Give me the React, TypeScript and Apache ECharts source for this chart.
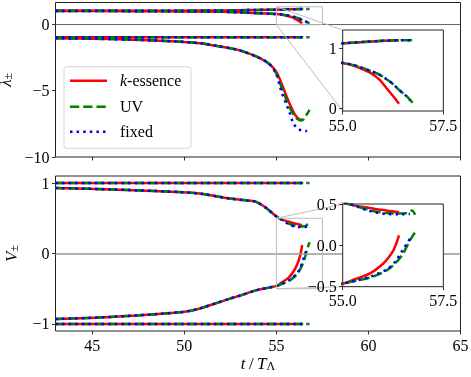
import { useEffect, useRef } from 'react';
import * as echarts from 'echarts';

// ---------------- data ----------------
const MODEL_NAMES = ['k-essence', 'UV', 'fixed'];
// last time reached by each model (k-essence, UV, fixed)
const END_T = [56.4, 56.8, 56.67];

const X_TICKS = [45, 50, 55, 60, 65];
const LAM_TICKS = [-10, -5, 0];
const V_TICKS = [-1, 0, 1];
const INSET_X_TICKS = [55, 57.5];
const LAM_INSET_TICKS = [0, 1];
const V_INSET_TICKS = [-0.5, 0, 0.5];

// lambda_+- : branch near +1 (slowly rising)
const lamA_t = [43, 48, 51, 52.5, 53.5, 54.5, 55, 55.5, 56, 56.4, 56.67, 56.8];
const lamA_v = [1.0, 1.0, 1.01, 1.02, 1.05, 1.07, 1.08, 1.1, 1.12, 1.13, 1.13, 1.14];
// branch near +1 falling to 0
const lamB_t = [43, 47, 50, 52, 53, 54, 55];
const lamB_v = [0.98, 0.97, 0.95, 0.92, 0.88, 0.82, 0.75];
const lamB_k_t = [55.3, 55.68, 55.9, 56.09, 56.25, 56.4];
const lamB_k_v = [0.7, 0.59, 0.48, 0.33, 0.2, 0.07];
const lamB_uv_t = [55.3, 55.68, 55.9, 56.09, 56.25, 56.42, 56.55, 56.67, 56.8];
const lamB_uv_v = [0.71, 0.62, 0.56, 0.48, 0.4, 0.29, 0.22, 0.14, 0.04];
const lamB_fx_t = [55.3, 55.68, 55.9, 56.09, 56.25, 56.42, 56.55, 56.67];
const lamB_fx_v = [0.71, 0.62, 0.56, 0.48, 0.4, 0.29, 0.22, 0.13];
// branch at -1
const lamC_t = [43, 50, 56.4, 56.67, 56.8];
const lamC_v = [-1, -1, -1, -1, -1];
// branch falling from -1 to about -7 / -8
const lamD_t = [43, 45, 47, 49, 50.84, 51.93, 53, 54.1, 54.66];
const lamD_v = [-1.07, -1.1, -1.17, -1.27, -1.44, -1.69, -1.98, -2.56, -3.06];
const lamD_k_t = [55, 55.2, 55.4, 55.6, 55.8, 56.0, 56.15, 56.3, 56.4];
const lamD_k_v = [-3.6, -4.2, -4.9, -5.6, -6.25, -6.8, -7.05, -7.2, -7.15];
const lamD_uv_t = [55, 55.2, 55.4, 55.6, 55.8, 56.0, 56.15, 56.3, 56.45, 56.6, 56.8];
const lamD_uv_v = [-3.75, -4.45, -5.2, -5.9, -6.5, -6.95, -7.15, -7.25, -7.2, -6.9, -6.45];
const lamD_fx_t = [55, 55.15, 55.3, 55.5, 55.7, 55.9, 56.1, 56.35, 56.67];
const lamD_fx_v = [-3.8, -4.5, -5.2, -5.9, -6.6, -7.4, -7.8, -8.0, -8.05];

// V_+- : constant branches
const vE_t = [43, 50, 56.4, 56.67, 56.8];
const vE_v = [1, 1, 1, 1, 1];
const vF_t = [43, 50, 56.4, 56.67, 56.8];
const vF_v = [-1, -1, -1, -1, -1];
// upper branch falling from 0.93 to 0.4
const vG_t = [43, 46, 49.9, 50.84, 52.48, 53.5, 53.93, 54.48, 55.02, 55.3];
const vG_v = [0.93, 0.91, 0.87, 0.85, 0.78, 0.75, 0.73, 0.64, 0.52, 0.48];
const vG_k_t = [55.57, 55.8, 56.1, 56.4];
const vG_k_v = [0.46, 0.44, 0.42, 0.4];
const vG_uv_t = [55.57, 55.8, 56.1, 56.4, 56.6, 56.72, 56.8];
const vG_uv_v = [0.44, 0.41, 0.39, 0.385, 0.39, 0.42, 0.37];
const vG_fx_t = [55.57, 55.8, 56.1, 56.4, 56.67];
const vG_fx_v = [0.43, 0.4, 0.38, 0.375, 0.38];
// lower branch rising from -0.93 to about 0.1
const vH_t = [43, 46, 49.9, 50.84, 52.48, 53.0, 53.93, 55.02];
const vH_v = [-0.93, -0.9, -0.83, -0.78, -0.64, -0.6, -0.52, -0.46];
const vH_k_t = [55.3, 55.68, 56.01, 56.15, 56.26, 56.33, 56.4];
const vH_k_v = [-0.41, -0.34, -0.22, -0.14, -0.06, 0.02, 0.12];
const vH_uv_t = [55.3, 55.68, 56.1, 56.3, 56.5, 56.67, 56.8];
const vH_uv_v = [-0.43, -0.39, -0.3, -0.22, -0.1, 0.06, 0.16];
const vH_fx_t = [55.3, 55.68, 56.1, 56.3, 56.5, 56.67];
const vH_fx_v = [-0.43, -0.38, -0.29, -0.2, -0.05, 0.08];

// ---------------- helpers ----------------
const zip = (t: number[], v: number[]) => t.map((x, i) => [x, v[i]]);
const shared = (t: number[], v: number[]) =>
  [0, 1, 2].map((m) => zip(t, v).filter((p) => p[0] <= END_T[m] + 1e-9));
const split = (t: number[], v: number[], tails: number[][][]) =>
  tails.map(([tt, tv]) => zip(t, v).concat(zip(tt, tv)));

const LAM_CURVES = [
  shared(lamA_t, lamA_v),
  split(lamB_t, lamB_v, [[lamB_k_t, lamB_k_v], [lamB_uv_t, lamB_uv_v], [lamB_fx_t, lamB_fx_v]]),
  shared(lamC_t, lamC_v),
  split(lamD_t, lamD_v, [[lamD_k_t, lamD_k_v], [lamD_uv_t, lamD_uv_v], [lamD_fx_t, lamD_fx_v]]),
];
const V_CURVES = [
  shared(vE_t, vE_v),
  shared(vF_t, vF_v),
  split(vG_t, vG_v, [[vG_k_t, vG_k_v], [vG_uv_t, vG_uv_v], [vG_fx_t, vG_fx_v]]),
  split(vH_t, vH_v, [[vH_k_t, vH_k_v], [vH_uv_t, vH_uv_v], [vH_fx_t, vH_fx_v]]),
];

const FONT = '"Liberation Serif", "Times New Roman", serif';
const COLORS = ['#ff0000', '#008000', '#0000ff'];
const DASH: any[] = ['solid', [9.25, 4], [2.5, 4.1]];
const minus = (s: string) => s.replace('-', '\u2212');

function curveSeries(curves: number[][][][], gi: number, z: number) {
  const out: any[] = [];
  curves.forEach((c) => {
    [0, 1, 2].forEach((m) => {
      out.push({
        type: 'line',
        name: MODEL_NAMES[m],
        xAxisIndex: gi,
        yAxisIndex: gi,
        data: c[m],
        symbol: 'none',
        showSymbol: false,
        smooth: 0.3,
        silent: true,
        clip: true,
        z,
        lineStyle: { color: COLORS[m], width: 2.5, type: DASH[m], cap: 'butt' },
      });
    });
  });
  return out;
}

function zeroLine(gi: number, color: string, width: number, z: number) {
  return {
    type: 'line',
    xAxisIndex: gi,
    yAxisIndex: gi,
    data: [],
    silent: true,
    z,
    markLine: {
      silent: true,
      symbol: ['none', 'none'],
      label: { show: false },
      lineStyle: { color, width, type: 'solid' },
      data: [{ yAxis: 0 }],
    },
  };
}

const tickStyle = { show: true, inside: false, length: 3.5, lineStyle: { color: '#000', width: 0.8 } };
const labelBase = { fontFamily: FONT, color: '#000', fontSize: 16 };
const gridBase = { show: true, borderColor: '#222', borderWidth: 1, outerBoundsMode: 'none', containLabel: false };

export default function App() {
  const ref = useRef<HTMLDivElement>(null);
  useEffect(() => {
    if (!ref.current) return;
    const chart = echarts.init(ref.current, undefined, { renderer: 'svg' });

    const nameRich = {
      a: { fontFamily: FONT, fontStyle: 'italic', fontSize: 17, color: '#000', verticalAlign: 'middle' },
      u: { fontFamily: FONT, fontSize: 17, color: '#000', verticalAlign: 'middle' },
      s: { fontFamily: FONT, fontSize: 12, color: '#000', verticalAlign: 'bottom' },
    };

    const option: any = {
      animation: false,
      grid: [
        { ...gridBase, left: 55.5, top: 2.5, width: 405, height: 154.5, backgroundColor: 'transparent', z: 0 },
        { ...gridBase, left: 55.5, top: 176, width: 405, height: 155, backgroundColor: 'transparent', z: 0 },
        { ...gridBase, left: 342.7, top: 30, width: 100.6, height: 81, backgroundColor: '#fff', z: 10 },
        { ...gridBase, left: 342.7, top: 204, width: 100.6, height: 82.7, backgroundColor: '#fff', z: 10 },
      ],
      xAxis: [0, 1, 2, 3].map((gi) => {
        const inset = gi >= 2;
        const ticks = inset ? INSET_X_TICKS : X_TICKS;
        return {
          type: 'value',
          gridIndex: gi,
          min: inset ? 55 : 43,
          max: inset ? 57.5 : 65,
          z: inset ? 12 : 0,
          axisLine: { show: false, onZero: false },
          axisTick: { ...tickStyle, customValues: ticks },
          splitLine: { show: false },
          axisLabel: {
            ...labelBase,
            show: gi !== 0,
            customValues: ticks,
            margin: 6,
            formatter: (v: number) => (inset ? v.toFixed(1) : String(v)),
          },
          name: gi === 1 ? '{a|t} {u|/} {a|T}{s|\u039B}' : '',
          nameLocation: 'middle',
          nameGap: 24,
          nameTextStyle: { rich: nameRich },
        };
      }),
      yAxis: [0, 1, 2, 3].map((gi) => {
        const lam = gi % 2 === 0;
        const inset = gi >= 2;
        const ticks = inset ? (lam ? LAM_INSET_TICKS : V_INSET_TICKS) : lam ? LAM_TICKS : V_TICKS;
        const min = inset ? (lam ? -0.05 : -0.5) : lam ? -10 : -1.1;
        const max = inset ? (lam ? 1.3 : 0.5) : lam ? 1.62 : 1.1;
        return {
          type: 'value',
          gridIndex: gi,
          min,
          max,
          z: inset ? 12 : 0,
          axisLine: { show: false, onZero: false },
          axisTick: { ...tickStyle, customValues: ticks },
          splitLine: { show: false },
          axisLabel: {
            ...labelBase,
            customValues: ticks,
            margin: 6,
            formatter: (v: number) => minus(inset && !lam ? v.toFixed(1) : String(v)),
          },
          name: inset ? '' : lam ? '{a|\u03BB}{s|\u00B1}' : '{a|V}{s|\u00B1}',
          nameLocation: 'middle',
          nameRotate: 90,
          nameGap: 36,
          nameTextStyle: { rich: nameRich },
        };
      }),
      series: [
        zeroLine(0, '#666', 1.2, 1),
        zeroLine(1, '#999', 1.5, 1),
        ...curveSeries(LAM_CURVES, 0, 2),
        ...curveSeries(V_CURVES, 1, 2),
        zeroLine(2, '#333', 1, 11),
        zeroLine(3, '#333', 1, 11),
        ...curveSeries(LAM_CURVES, 2, 11),
        ...curveSeries(V_CURVES, 3, 11),
      ],
    };
    chart.setOption(option);

    // zoom rectangles and connectors, from the axes' own scales
    const px = (gi: number, x: number, y: number) =>
      chart.convertToPixel({ xAxisIndex: gi, yAxisIndex: gi }, [x, y]) as number[];
    const zoomEls: any[] = [];
    const addZoom = (mainGi: number, insetGi: number, y0: number, y1: number) => {
      const a = px(mainGi, 55, y1);
      const b = px(mainGi, 57.5, y0);
      const c = px(insetGi, 55, y1);
      const d = px(insetGi, 55, y0);
      const ls = { stroke: '#bdbdbd', lineWidth: 1, fill: 'none' };
      zoomEls.push({ type: 'rect', z: 5, silent: true, shape: { x: a[0], y: a[1], width: b[0] - a[0], height: b[1] - a[1] }, style: ls });
      zoomEls.push({ type: 'line', z: 5, silent: true, shape: { x1: a[0], y1: a[1], x2: c[0], y2: c[1] }, style: ls });
      zoomEls.push({ type: 'line', z: 5, silent: true, shape: { x1: a[0], y1: b[1], x2: d[0], y2: d[1] }, style: ls });
    };
    addZoom(0, 2, -0.05, 1.3);
    addZoom(1, 3, -0.5, 0.5);

    // legend
    const legX = 64, legY = 66.7, legW = 127, legH = 81.6;
    const rowY = [80.7, 106.7, 131.7];
    const legendEls: any[] = [
      { type: 'rect', z: 20, silent: true, shape: { x: legX, y: legY, width: legW, height: legH, r: 3 }, style: { fill: 'rgba(255,255,255,0.85)', stroke: '#d4d4d4', lineWidth: 1 } },
    ];
    [0, 1, 2].forEach((m) => {
      legendEls.push({
        type: 'line', z: 21, silent: true,
        shape: { x1: 70, y1: rowY[m], x2: 107, y2: rowY[m] },
        style: { stroke: COLORS[m], lineWidth: 2.5, lineDash: m === 0 ? null : DASH[m], lineCap: 'butt' },
      });
      legendEls.push({
        type: 'text', z: 21, silent: true, x: 120, y: rowY[m],
        style: {
          text: m === 0 ? '{i|k}{r|-essence}' : '{r|' + MODEL_NAMES[m] + '}',
          verticalAlign: 'middle',
          rich: {
            i: { fontFamily: FONT, fontStyle: 'italic', fontSize: 16, fill: '#000' },
            r: { fontFamily: FONT, fontSize: 16, fill: '#000' },
          },
        },
      });
    });
    chart.setOption({ graphic: [...zoomEls, ...legendEls] });

    return () => chart.dispose();
  }, []);
  return <div ref={ref} style={{ position: 'fixed', left: 0, top: 0, width: 471, height: 377 }} />;
}
